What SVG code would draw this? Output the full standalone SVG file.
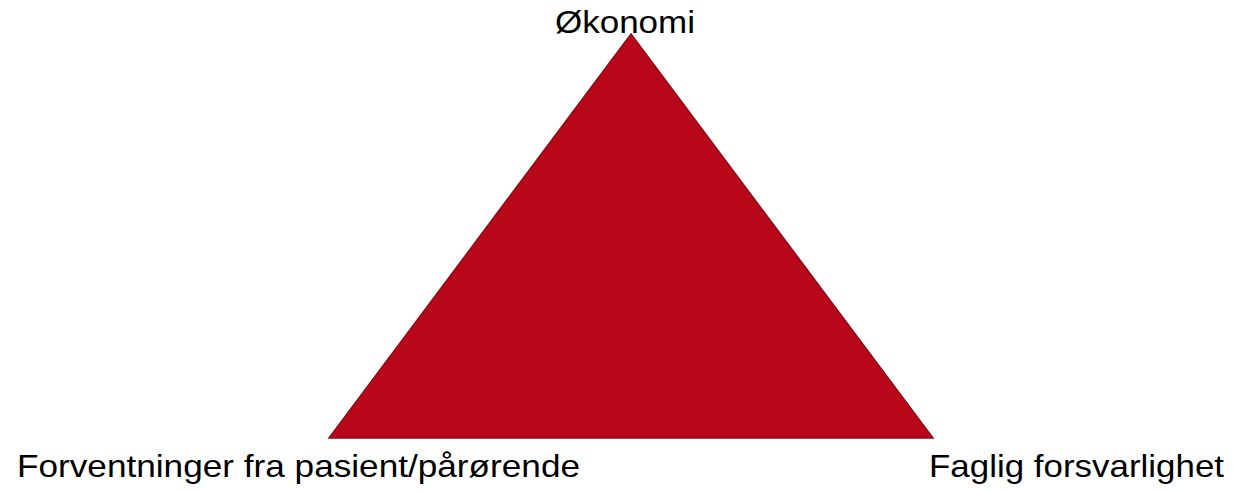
<svg xmlns="http://www.w3.org/2000/svg" width="1244" height="491" viewBox="0 0 1244 491">
<style>
.lbl{font-family:"Liberation Sans",Arial,sans-serif;font-size:32px;fill:#000}
.tri{fill:#b70718;stroke:#8f0a16;stroke-width:1.5;stroke-linejoin:miter}
</style>
<rect width="1244" height="491" fill="#fff"/>
<g id="triangle">
<polygon class="tri" points="631,34 933,438 329,438"/>
</g>
<g id="connectors"/>
<g id="okonomi">
<text class="lbl" x="555" y="33" textLength="140" lengthAdjust="spacingAndGlyphs">Økonomi</text>
</g>
<g id="forventninger">
<text class="lbl" x="17" y="477" textLength="563" lengthAdjust="spacingAndGlyphs">Forventninger fra pasient/pårørende</text>
</g>
<g id="faglig">
<text class="lbl" x="929" y="477" textLength="295" lengthAdjust="spacingAndGlyphs">Faglig forsvarlighet</text>
</g>
</svg>
